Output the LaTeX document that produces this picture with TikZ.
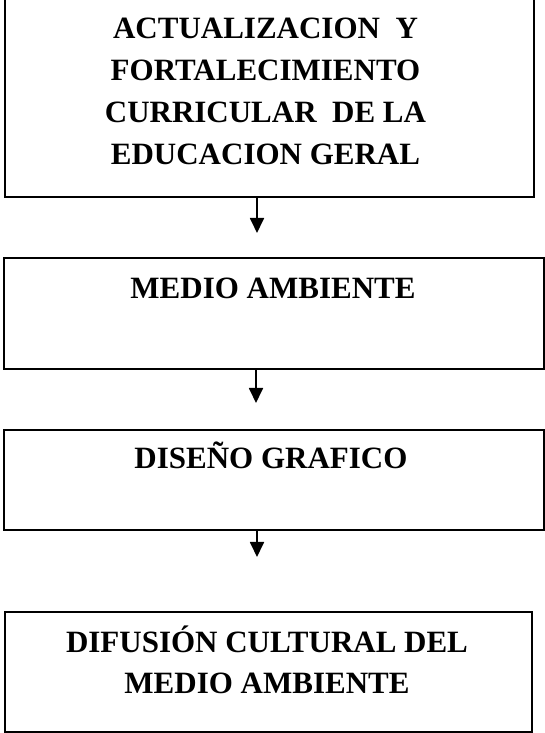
\documentclass[tikz,border=0pt]{standalone}
\usepackage{fontspec}
\setmainfont{Liberation Serif}
\usetikzlibrary{arrows.meta}
\begin{document}
\begin{tikzpicture}[x=1pt,y=1pt,
  box/.style={draw=black,line width=1.6pt,rectangle,inner sep=0pt},
  lbl/.style={anchor=base,inner sep=0pt,font=\bfseries\fontsize{31}{42}\selectfont},
  arr/.style={line width=1.8pt,-{Triangle[width=14pt,length=15pt]}}]
\useasboundingbox (0,0) rectangle (545,733);
\clip (0,0) rectangle (545,733);
% boxes
\node[box,minimum width=529pt,minimum height=209pt] (b1) at (269.5,640.5) {};
\node[box,minimum width=540pt,minimum height=111pt] (b2) at (274,419.5) {};
\node[box,minimum width=540pt,minimum height=100pt] (b3) at (274,253) {};
\node[box,minimum width=527pt,minimum height=120pt] (b4) at (268.5,61) {};
% texts
\node[lbl] (t1a) at (265.5,694) {ACTUALIZACION\ \ Y};
\node[lbl] (t1b) at (265.5,652) {FORTALECIMIENTO};
\node[lbl] (t1c) at (265.5,610) {CURRICULAR\ \ DE LA};
\node[lbl] (t1d) at (265.5,568) {EDUCACION GERAL};
\node[lbl] (t2) at (273,434) {MEDIO AMBIENTE};
\node[lbl] (t3) at (271,264) {DISEÑO GRAFICO};
\node[lbl] (t4a) at (267,80) {DIFUSIÓN CULTURAL DEL};
\node[lbl] (t4b) at (267,39) {MEDIO AMBIENTE};
% arrows
\coordinate (a1) at (257,500);
\coordinate (a2) at (256,330);
\coordinate (a3) at (257,176);
\draw[arr] (b1.south -| a1) -- (a1);
\draw[arr] (b2.south -| a2) -- (a2);
\draw[arr] (b3.south -| a3) -- (a3);
\end{tikzpicture}
\end{document}
